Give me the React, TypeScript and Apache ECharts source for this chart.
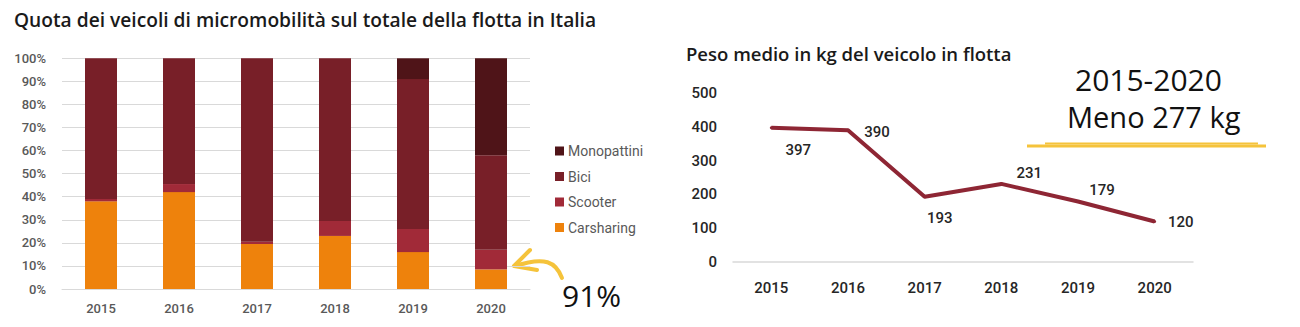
import React, { useEffect, useRef } from "react";
import * as echarts from "echarts";

const years = ["2015", "2016", "2017", "2018", "2019", "2020"];
const carsharing = [38, 42, 19.5, 23, 16, 8.5];
const scooter = [1, 3.5, 1, 6.5, 10, 8.5];
const bici = [61, 54.5, 79.5, 70.5, 65, 41];
const monopattini = [0, 0, 0, 0, 9, 42];
const pesoMedio = [397, 390, 193, 231, 179, 120];
const pesoLabelOffsets: [number, number][] = [
  [27, 22],
  [29, 2],
  [15, 21],
  [28, -11],
  [24, -11],
  [26, 1],
];

const FONT = "Roboto";
const TITLE_FONT = "Open Sans";
const HAND = "Open Sans";
const YELLOW = "#F5C33B";

export default function App() {
  const ref = useRef<HTMLDivElement>(null);
  useEffect(() => {
    if (!ref.current) return;
    const chart = echarts.init(ref.current, null, { renderer: "svg" });
    const barSeries = (name: string, data: number[], color: string) => ({
      name,
      type: "bar",
      stack: "quota",
      xAxisIndex: 0,
      yAxisIndex: 0,
      barWidth: 32,
      data,
      itemStyle: { color },
      emphasis: { disabled: true },
    });
    chart.setOption({
      animation: false,
      backgroundColor: "#ffffff",
      textStyle: { fontFamily: FONT },
      title: [
        {
          text: "Quota dei veicoli di micromobilità sul totale della flotta in Italia",
          left: 9,
          top: 5,
          textStyle: { fontFamily: TITLE_FONT, fontSize: 19.2, fontWeight: 600, color: "#1a1a1a" },
        },
        {
          text: "Peso medio in kg del veicolo in flotta",
          left: 681,
          top: 39,
          textStyle: { fontFamily: TITLE_FONT, fontSize: 18.5, fontWeight: 600, color: "#1a1a1a" },
        },
      ],
      legend: {
        orient: "vertical",
        left: 550,
        top: 139,
        itemWidth: 9,
        itemHeight: 9,
        itemGap: 11.5,
        icon: "rect",
        data: ["Monopattini", "Bici", "Scooter", "Carsharing"],
        textStyle: { fontFamily: FONT, fontSize: 14, color: "#595959", padding: [0, 0, 0, -1] },
      },
      grid: [
        { left: 62, top: 58.3, width: 468, height: 230.7 },
        { left: 733, top: 93, width: 460, height: 169 },
      ],
      xAxis: [
        {
          type: "category",
          gridIndex: 0,
          data: years,
          axisLine: { show: true, lineStyle: { color: "#D9D9D9" } },
          axisTick: { show: false },
          axisLabel: { margin: 13, fontSize: 13, fontWeight: 500, color: "#595959", fontFamily: FONT },
        },
        {
          type: "category",
          gridIndex: 1,
          data: years,
          axisLine: { show: true, lineStyle: { color: "#D9D9D9", width: 1.5 } },
          axisTick: { show: false },
          axisLabel: { margin: 18, fontSize: 15, fontWeight: 500, color: "#262626", fontFamily: FONT },
        },
      ],
      yAxis: [
        {
          type: "value",
          gridIndex: 0,
          min: 0,
          max: 100,
          interval: 10,
          axisLine: { show: false },
          axisTick: { show: false },
          splitLine: { lineStyle: { color: "#D9D9D9" } },
          axisLabel: { margin: 16, fontSize: 13, fontWeight: 500, color: "#595959", formatter: "{value}%", fontFamily: FONT },
        },
        {
          type: "value",
          gridIndex: 1,
          min: 0,
          max: 500,
          interval: 100,
          axisLine: { show: false },
          axisTick: { show: false },
          splitLine: { show: false },
          axisLabel: { margin: 16, fontSize: 15, fontWeight: 500, color: "#262626", fontFamily: FONT },
        },
      ],
      series: [
        barSeries("Carsharing", carsharing, "#EE820C"),
        barSeries("Scooter", scooter, "#A12A38"),
        barSeries("Bici", bici, "#781F28"),
        barSeries("Monopattini", monopattini, "#4F1418"),
        {
          name: "Peso medio",
          type: "line",
          xAxisIndex: 1,
          yAxisIndex: 1,
          symbol: "circle",
          symbolSize: 3,
          itemStyle: { color: "#8E2634" },
          lineStyle: { color: "#8E2634", width: 4 },
          emphasis: { disabled: true },
          data: pesoMedio.map((v, i) => ({
            value: v,
            label: {
              show: true,
              position: "inside",
              offset: pesoLabelOffsets[i],
              fontSize: 15,
              fontWeight: 500,
              color: "#262626",
              fontFamily: FONT,
            },
          })),
        },
      ],
      graphic: [
        {
          type: "text",
          left: 1075,
          top: 64,
          style: { text: "2015-2020", font: `30px "${HAND}"`, fill: "#111" },
        },
        {
          type: "text",
          left: 1067,
          top: 102,
          style: { text: "Meno 277 kg", font: `29px "${HAND}"`, fill: "#111" },
        },
        {
          type: "line",
          shape: { x1: 1027, y1: 146, x2: 1266, y2: 146 },
          style: { stroke: YELLOW, lineWidth: 3 },
        },
        {
          type: "line",
          shape: { x1: 1045, y1: 143.5, x2: 1258, y2: 143.5 },
          style: { stroke: YELLOW, lineWidth: 2 },
        },
        {
          type: "bezierCurve",
          shape: { x1: 515, y1: 266, cpx1: 545, cpy1: 256, cpx2: 556, cpy2: 262, x2: 562, y2: 278 },
          style: { stroke: YELLOW, lineWidth: 4, fill: "none", lineCap: "round" },
        },
        {
          type: "polyline",
          shape: { points: [[530, 250], [514, 266], [537, 270]] },
          style: { stroke: YELLOW, lineWidth: 4, fill: "none", lineCap: "round", lineJoin: "round" },
        },
        {
          type: "text",
          left: 562,
          top: 280,
          style: { text: "91%", font: `30px "${HAND}"`, fill: "#111" },
        },
      ],
    });
    return () => chart.dispose();
  }, []);
  return (
    <div
      ref={ref}
      style={{ position: "fixed", left: 0, top: 0, width: 1300, height: 327, background: "#fff" }}
    />
  );
}
